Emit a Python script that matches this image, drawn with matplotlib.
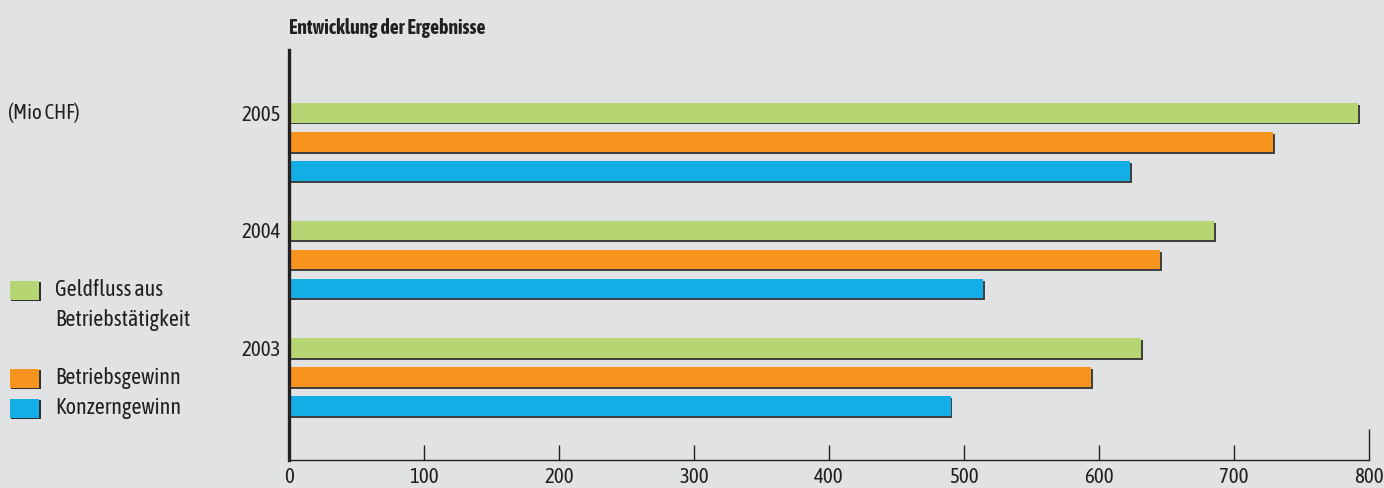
import matplotlib
matplotlib.use("Agg")
import matplotlib.pyplot as plt
import matplotlib.patheffects as pe
from matplotlib import font_manager
from matplotlib.patches import Rectangle
import numpy as np

# Data (Mio CHF)
years = ["2003", "2004", "2005"]
geldfluss = [631, 685, 792]
betriebsgewinn = [594, 645, 729]
konzerngewinn = [490, 514, 623]
series_labels = ["Geldfluss aus\nBetriebstätigkeit", "Betriebsgewinn", "Konzerngewinn"]
series_colors = ["#b5d672", "#f7941d", "#13aee6"]
x_ticks = [0, 100, 200, 300, 400, 500, 600, 700, 800]

bg = "#e1e2e4"
ink = "#231f20"

# look for a narrow font, the original uses a condensed grotesk
fams = {}
for f in font_manager.fontManager.ttflist:
    n = f.name.lower()
    if "narrow" in n or "condensed" in n:
        w = f.weight if isinstance(f.weight, int) else 700 if "bold" in str(f.weight) else 400
        fams.setdefault(f.name, set()).add(w)
has_bold = False
if fams:
    bold_fams = sorted(n for n, ws in fams.items() if max(ws) >= 600)
    name = bold_fams[0] if bold_fams else sorted(fams)[0]
    has_bold = bool(bold_fams)
    plt.rcParams["font.family"] = [name, "DejaVu Sans"]
    fs = 15
else:
    plt.rcParams["font.family"] = ["Liberation Sans", "DejaVu Sans"]
    fs = 13

W, H = 1384, 488
fig = plt.figure(figsize=(W / 100, H / 100), dpi=100, facecolor=bg)
ax = fig.add_axes([289 / W, 1 - 460 / H, (1369 - 289) / W, (460 - 50) / H])
ax.set_facecolor(bg)

pos = np.arange(len(years))
offset = 0.247
height = 0.165
shadow = [pe.SimplePatchShadow(offset=(1.3, -1.3), shadow_rgbFace="#2f2f2f", alpha=0.9), pe.Normal()]

for i, vals in enumerate([geldfluss, betriebsgewinn, konzerngewinn]):
    ax.barh(pos - i * offset, vals, height=height, color=series_colors[i],
            edgecolor="none", path_effects=shadow, zorder=2)

ax.set_xlim(0, 800)
ax.set_ylim(-0.953, 2.536)
ax.set_yticks(pos)
ax.set_yticklabels(years)
ax.set_xticks(x_ticks)
ax.set_xticklabels([str(t) for t in x_ticks])

for s in ["top", "right"]:
    ax.spines[s].set_visible(False)
ax.spines["left"].set_linewidth(2.4)
ax.spines["left"].set_color(ink)
ax.spines["bottom"].set_linewidth(1.0)
ax.spines["bottom"].set_color(ink)

ax.tick_params(axis="x", direction="in", length=11, width=1, color=ink,
               labelsize=fs, labelcolor=ink, pad=5)
ax.tick_params(axis="y", length=0, labelsize=fs, labelcolor=ink, pad=6)
ax.xaxis.get_major_ticks()[-1].tick1line.set_markersize(22)

title_fx = [] if has_bold else [pe.withStroke(linewidth=1.0, foreground=ink)]
fig.text(289 / W, 1 - 28 / H, "Entwicklung der Ergebnisse", fontsize=fs - 0.8,
         fontweight="bold", color=ink, ha="left", va="center", path_effects=title_fx)
fig.text(8 / W, 1 - 113 / H, "(Mio CHF)", fontsize=fs, color=ink,
         ha="left", va="center")

# legend
legend_y = [290, 378, 408]
for lbl, col, y in zip(series_labels, series_colors, legend_y):
    fig.patches.append(Rectangle(((10 + 1.5) / W, 1 - (y + 9.5 + 1.5) / H), 29 / W, 19 / H,
                                 transform=fig.transFigure, facecolor="#2f2f2f",
                                 edgecolor="none"))
    fig.patches.append(Rectangle((10 / W, 1 - (y + 9.5) / H), 29 / W, 19 / H,
                                 transform=fig.transFigure, facecolor=col,
                                 edgecolor="none"))
    for k, line in enumerate(lbl.split("\n")):
        fig.text(55 / W, 1 - (y + 30 * k) / H, line, fontsize=fs + 0.8, color=ink,
                 ha="left", va="center")

fig.savefig("out.png", dpi=100, facecolor=bg)
